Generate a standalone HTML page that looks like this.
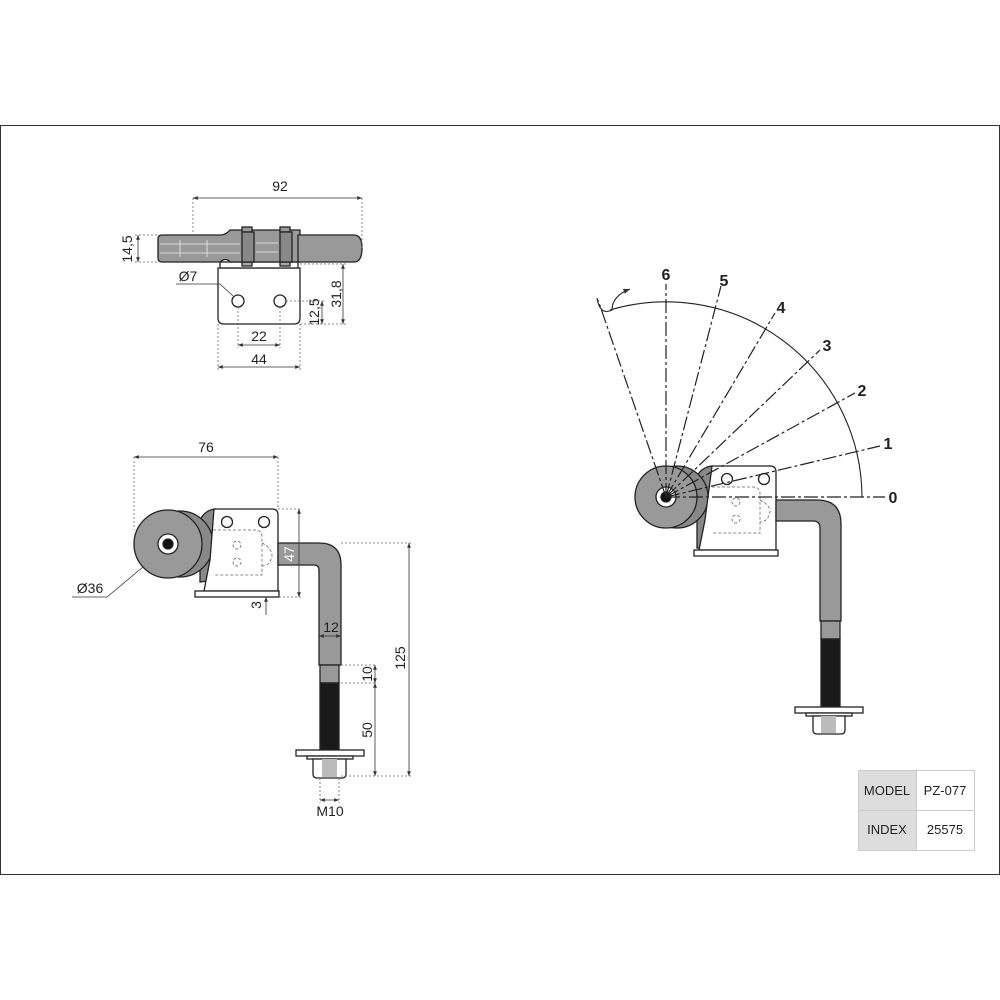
<!DOCTYPE html>
<html><head><style>
html,body{margin:0;padding:0;background:#fff;}
svg{display:block;}
text{font-family:"Liberation Sans",Arial,sans-serif;fill:#222;}
</style></head><body>
<svg width="1000" height="1000" viewBox="0 0 1000 1000" xmlns="http://www.w3.org/2000/svg">
<defs>
<marker id="ar" viewBox="0 0 10 10" refX="10" refY="5" markerWidth="6" markerHeight="6" orient="auto-start-reverse"><path d="M0,1 L10,5 L0,9 z" fill="#333"/></marker>
</defs>
<rect x="0.5" y="125.5" width="999" height="749" fill="none" stroke="#333" stroke-width="1"/>

<!-- ===== TOP VIEW ===== -->
<g stroke="#222" stroke-width="1.3">
<path d="M218,268 H300 V318 Q300,324 294,324 H224 Q218,324 218,318 Z" fill="#fff"/>
<rect x="220" y="262" width="78" height="6" fill="#fff"/>
<rect x="242" y="262" width="10" height="4" fill="#aaa"/>
<rect x="280" y="262" width="10" height="4" fill="#aaa"/>
<circle cx="238" cy="301" r="6" fill="#fff"/>
<circle cx="280" cy="301" r="6" fill="#fff"/>
<path d="M162,235 H220 Q226,235 230,230 H300 V262 H230 Q226,257 220,262 H162 Q158,262 158,258 V239 Q158,235 162,235 Z" fill="#999"/>
<path d="M298,235 H354 Q362,235 362,248 Q362,262 354,262 H298 Z" fill="#999"/>
<rect x="242" y="227" width="10" height="5" fill="#999"/>
<rect x="280" y="227" width="10" height="5" fill="#999"/>
<rect x="242" y="232" width="12" height="30" fill="#888"/>
<rect x="280" y="232" width="12" height="30" fill="#888"/>
</g>
<g stroke="#eee" stroke-width="0.8" fill="none">
<line x1="160" y1="244" x2="240" y2="244"/><line x1="160" y1="253" x2="240" y2="253"/>
<line x1="180" y1="240" x2="180" y2="257"/><line x1="207" y1="240" x2="207" y2="257"/>
<line x1="256" y1="243" x2="278" y2="243"/><line x1="256" y1="252" x2="278" y2="252"/>
</g>
<g stroke="#666" stroke-width="0.8" stroke-dasharray="2,2" fill="none">
<line x1="193" y1="198" x2="193" y2="234"/><line x1="362" y1="198" x2="362" y2="248"/>
<line x1="135" y1="235" x2="158" y2="235"/><line x1="135" y1="262" x2="158" y2="262"/>
<line x1="300" y1="264" x2="347" y2="264"/><line x1="300" y1="324" x2="347" y2="324"/>
<line x1="286" y1="301" x2="325" y2="301"/>
<line x1="238" y1="307" x2="238" y2="348"/><line x1="280" y1="307" x2="280" y2="348"/>
<line x1="218" y1="324" x2="218" y2="370"/><line x1="300" y1="324" x2="300" y2="370"/>
</g>
<g stroke="#333" stroke-width="0.8" fill="none">
<line x1="193" y1="198" x2="362" y2="198" marker-start="url(#ar)" marker-end="url(#ar)"/>
<line x1="138" y1="235" x2="138" y2="262" marker-start="url(#ar)" marker-end="url(#ar)"/>
<line x1="343" y1="264" x2="343" y2="324" marker-start="url(#ar)" marker-end="url(#ar)"/>
<line x1="322" y1="301" x2="322" y2="324" marker-start="url(#ar)" marker-end="url(#ar)"/>
<line x1="238" y1="345" x2="280" y2="345" marker-start="url(#ar)" marker-end="url(#ar)"/>
<line x1="218" y1="367" x2="300" y2="367" marker-start="url(#ar)" marker-end="url(#ar)"/>
<polyline points="176,284 220,284 233,296"/>
</g>
<text x="280" y="191" font-size="14" text-anchor="middle">92</text>
<text x="0" y="0" font-size="14" text-anchor="middle" transform="translate(132,249) rotate(-90)">14,5</text>
<text x="188" y="281" font-size="14" text-anchor="middle">Ø7</text>
<text x="0" y="0" font-size="14" text-anchor="middle" transform="translate(341,294) rotate(-90)">31,8</text>
<text x="0" y="0" font-size="14" text-anchor="middle" transform="translate(319,312) rotate(-90)">12,5</text>
<text x="259" y="341" font-size="14" text-anchor="middle">22</text>
<text x="259" y="364" font-size="14" text-anchor="middle">44</text>

<!-- ===== SIDE VIEW LEFT ===== -->
<g stroke="#222" stroke-width="1.3">
<path d="M200,520 Q205,510 215,509 L215,580 L200,582 Z" fill="#888"/>
<circle cx="180" cy="544" r="33" fill="#888"/>
<circle cx="168" cy="544" r="34" fill="#999"/>
<circle cx="168" cy="544" r="10" fill="#fff"/>
<circle cx="168" cy="544" r="5" fill="#111"/>
<path d="M214,509 H272 Q278,509 278,515 V591 H204 L210,560 Z" fill="#fff"/>
<rect x="195" y="591" width="84" height="6" fill="#fff"/>
<circle cx="227" cy="522" r="5.5" fill="#fff"/><circle cx="264" cy="522" r="5.5" fill="#fff"/>
<path d="M278,543 H319 Q341,543 341,565 V665 H319 V570 Q319,565 314,565 H278 Z" fill="#999"/>
<rect x="320" y="665" width="19" height="18" fill="#999"/>
<rect x="320" y="683" width="19" height="70" fill="#1a1a1a"/>
<rect x="296" y="750" width="68" height="6" fill="#fff"/>
<rect x="307" y="756" width="46" height="3" fill="#fff"/>
<path d="M313,759 H346 V774 Q346,778 342,778 H317 Q313,778 313,774 Z" fill="#fff"/>
<rect x="322" y="759" width="15" height="18" fill="#bbb" stroke="none"/>
</g>
<g stroke="#666" stroke-width="0.8" stroke-dasharray="3,2" fill="none">
<path d="M213,530 H255 Q262,530 262,537 V575 H213"/>
<path d="M262,543 Q272,548 272,556 Q270,566 262,566"/>
<circle cx="237" cy="545" r="4"/><circle cx="237" cy="562" r="4"/>
</g>
<g stroke="#666" stroke-width="0.8" stroke-dasharray="2,2" fill="none">
<line x1="134" y1="457" x2="134" y2="530"/><line x1="278" y1="457" x2="278" y2="509"/>
<line x1="278" y1="509" x2="302" y2="509"/><line x1="279" y1="597" x2="302" y2="597"/>
<line x1="341" y1="543" x2="412" y2="543"/><line x1="341" y1="776" x2="412" y2="776"/>
<line x1="341" y1="665" x2="375" y2="665"/><line x1="341" y1="683" x2="375" y2="683"/>
<line x1="320" y1="778" x2="320" y2="803"/><line x1="339" y1="778" x2="339" y2="803"/>
</g>
<g stroke="#333" stroke-width="0.8" fill="none">
<line x1="134" y1="457" x2="278" y2="457" marker-start="url(#ar)" marker-end="url(#ar)"/>
<line x1="299" y1="509" x2="299" y2="597" marker-start="url(#ar)" marker-end="url(#ar)"/>
<line x1="409" y1="543" x2="409" y2="776" marker-start="url(#ar)" marker-end="url(#ar)"/>
<line x1="375" y1="665" x2="375" y2="683" marker-start="url(#ar)" marker-end="url(#ar)"/>
<line x1="375" y1="683" x2="375" y2="776" marker-start="url(#ar)" marker-end="url(#ar)"/>
<line x1="319" y1="636" x2="341" y2="636" marker-start="url(#ar)" marker-end="url(#ar)"/>
<line x1="320" y1="800" x2="339" y2="800" marker-start="url(#ar)" marker-end="url(#ar)"/>
<line x1="266" y1="597" x2="266" y2="615" marker-start="url(#ar)"/>
<polyline points="72,597 107,597 143,567"/>
</g>
<text x="206" y="452" font-size="14" text-anchor="middle">76</text>
<text x="90" y="593" font-size="14" text-anchor="middle">Ø36</text>
<text x="0" y="0" font-size="14" text-anchor="middle" transform="translate(261,605) rotate(-90)">3</text>
<text x="0" y="0" font-size="14" text-anchor="middle" style="fill:#fff" transform="translate(294,554) rotate(-90)">47</text>
<text x="331" y="632" font-size="14" text-anchor="middle">12</text>
<text x="0" y="0" font-size="14" text-anchor="middle" transform="translate(405,658) rotate(-90)">125</text>
<text x="0" y="0" font-size="14" text-anchor="middle" transform="translate(372,674) rotate(-90)">10</text>
<text x="0" y="0" font-size="14" text-anchor="middle" transform="translate(372,730) rotate(-90)">50</text>
<text x="330" y="816" font-size="14" text-anchor="middle">M10</text>

<!-- ===== RIGHT VIEW ===== -->
<g stroke="#222" stroke-width="1.3">
<path d="M697,476 Q702,467 712,466 L712,548 L697,548 Z" fill="#888"/>
<circle cx="677" cy="497" r="31" fill="#888"/>
<circle cx="666" cy="497" r="31" fill="#999"/>
<circle cx="666" cy="497" r="10" fill="#fff"/>
<circle cx="666" cy="497" r="5" fill="#111"/>
<path d="M712,466 H770 Q776,466 776,472 V550 H699 L705,520 Z" fill="#fff"/>
<rect x="694" y="550" width="84" height="6" fill="#fff"/>
<circle cx="727" cy="479" r="5.5" fill="#fff"/><circle cx="764" cy="479" r="5.5" fill="#fff"/>
<path d="M776,500 H817 Q841,500 841,524 V621 H820 V528 Q820,521 813,521 H776 Z" fill="#999"/>
<rect x="821" y="621" width="19" height="18" fill="#999"/>
<rect x="821" y="639" width="19" height="70" fill="#1a1a1a"/>
<rect x="795" y="707" width="68" height="6" fill="#fff"/>
<rect x="806" y="713" width="46" height="3" fill="#fff"/>
<path d="M813,716 H845 V730 Q845,734 841,734 H817 Q813,734 813,730 Z" fill="#fff"/>
<rect x="821" y="716" width="15" height="17" fill="#bbb" stroke="none"/>
</g>
<g stroke="#666" stroke-width="0.8" stroke-dasharray="3,2" fill="none">
<path d="M712,487 H753 Q760,487 760,494 V533 H712"/>
<path d="M760,500 Q770,505 770,512 Q768,522 760,522"/>
<circle cx="736" cy="502" r="4"/><circle cx="736" cy="519" r="4"/>
</g>
<g stroke="#222" stroke-width="1.2" fill="none" stroke-dasharray="14,3,3,3">
<line x1="666" y1="497" x2="885" y2="497"/>
<line x1="666" y1="497" x2="880" y2="446"/>
<line x1="666" y1="497" x2="855" y2="393"/>
<line x1="666" y1="497" x2="820" y2="350"/>
<line x1="666" y1="497" x2="775" y2="313"/>
<line x1="666" y1="497" x2="721" y2="286"/>
<line x1="666" y1="497" x2="666" y2="284"/>
<line x1="666" y1="497" x2="598" y2="300"/>
</g>
<g stroke="#222" stroke-width="1.1" fill="none">
<path d="M610,310 A196,196 0 0 1 862,497"/>
<path d="M597,298 Q600,316 612,310 Q612,296 630,289" marker-end="url(#ar)"/>
</g>
<g font-size="16" font-weight="bold">
<text x="893" y="503" text-anchor="middle">0</text>
<text x="888" y="449" text-anchor="middle">1</text>
<text x="862" y="396" text-anchor="middle">2</text>
<text x="827" y="351" text-anchor="middle">3</text>
<text x="781" y="313" text-anchor="middle">4</text>
<text x="724" y="286" text-anchor="middle">5</text>
<text x="666" y="280" text-anchor="middle">6</text>
</g>

<!-- ===== TABLE ===== -->
<rect x="858" y="770" width="58" height="40" fill="#ddd"/>
<rect x="858" y="810" width="58" height="40" fill="#ddd"/>
<g stroke="#ccc" stroke-width="1" fill="none">
<rect x="858.5" y="770.5" width="116" height="80"/>
<line x1="858" y1="810.5" x2="975" y2="810.5"/>
<line x1="916.5" y1="770" x2="916.5" y2="851"/>
</g>
<text x="887" y="795" font-size="13" text-anchor="middle">MODEL</text>
<text x="945" y="795" font-size="13" text-anchor="middle">PZ-077</text>
<text x="887" y="834" font-size="13" text-anchor="middle">INDEX</text>
<text x="945" y="834" font-size="13" text-anchor="middle">25575</text>
</svg>
</body></html>
